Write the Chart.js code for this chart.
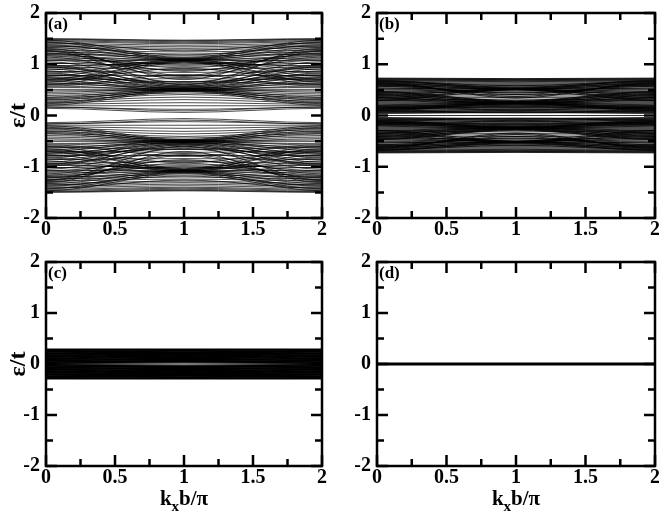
<!DOCTYPE html>
<html>
<head>
<meta charset="utf-8">
<script src="https://cdn.jsdelivr.net/npm/chart.js@4.4.1/dist/chart.umd.min.js"></script>
<style>
    body { margin: 0; background: #fff; }
    .panel { position: absolute; }
</style>
</head>
<body>
<div class="panel" style="left:0;top:0"><canvas id="pa" width="330" height="250"></canvas></div>
<div class="panel" style="left:330px;top:0"><canvas id="pb" width="329" height="250"></canvas></div>
<div class="panel" style="left:0;top:250px"><canvas id="pc" width="330" height="266"></canvas></div>
<div class="panel" style="left:330px;top:250px"><canvas id="pd" width="329" height="266"></canvas></div>
<script>
// ========================== Data ==========================
// each band: energy at kx b/pi = 0 (and 2) and at kx b/pi = 1, upper half (spectrum is symmetric about 0)
const xMajorTicks = [0, 0.5, 1, 1.5, 2];
const xMinorTicks = [0.25, 0.75, 1.25, 1.75];
const yMajorTicks = [-2, -1, 0, 1, 2];
const yMinorTicks = [-1.5, -0.5, 0.5, 1.5];

const bandsA_k0 = [0.14, 0.16, 0.19, 0.22, 0.25, 0.28, 0.31, 0.17,
    0.20, 0.23, 0.26, 0.30, 0.33, 0.36, 0.39, 0.42, 0.45, 0.48, 0.51, 0.35,
    0.55, 0.58, 0.61, 0.64, 0.67, 0.70, 0.73, 0.76, 0.79, 0.83, 0.87, 0.91, 0.95, 0.99,
    0.62, 0.70, 0.78, 0.86, 0.94, 1.02, 1.10, 1.16, 1.22, 1.27, 1.31, 1.05,
    0.60, 0.65, 0.71, 0.77, 0.83, 0.89, 0.95, 1.01, 1.07, 1.12,
    1.17, 1.21, 1.25, 1.29, 1.33, 1.38, 1.43, 1.47,
    1.20, 1.24, 1.28, 1.32, 1.35, 1.38, 1.41, 1.44, 1.46, 1.48, 1.49, 1.50, 1.36, 1.42,
    0.57, 0.68, 0.81, 0.93, 1.08, 1.19, 1.26, 0.74, 1.14, 0.97];
const bandsA_k1 = [0.06, 0.12, 0.19, 0.25, 0.31, 0.36, 0.41, 0.09,
    0.47, 0.50, 0.48, 0.51, 0.49, 0.52, 0.47, 0.50, 0.53, 0.49, 0.51, 0.44,
    0.52, 0.49, 0.54, 0.50, 0.53, 0.48, 0.55, 0.51, 0.56, 0.52, 0.58, 0.55, 0.60, 0.57,
    0.66, 0.72, 0.78, 0.84, 0.90, 0.96, 1.00, 0.93, 0.86, 0.78, 0.70, 0.64,
    1.04, 1.07, 1.05, 1.09, 1.06, 1.08, 1.05, 1.10, 1.07, 1.09,
    1.07, 1.10, 1.08, 1.11, 1.09, 1.12, 1.10, 1.13,
    1.16, 1.20, 1.24, 1.28, 1.31, 1.34, 1.37, 1.40, 1.42, 1.44, 1.46, 1.47, 1.18, 1.26,
    0.80, 0.92, 0.62, 0.74, 0.88, 0.98, 0.60, 0.66, 0.76, 1.02];

const bandsB_k0 = [0.00, 0.05, 0.07, 0.09, 0.11, 0.13, 0.15, 0.08,
    0.04, 0.06, 0.10, 0.12, 0.14, 0.16, 0.18, 0.19,
    0.10, 0.12, 0.13, 0.15, 0.17, 0.18, 0.20, 0.21, 0.23, 0.25,
    0.27, 0.29, 0.30, 0.32, 0.34, 0.35, 0.37, 0.39, 0.41, 0.43, 0.45, 0.47,
    0.30, 0.34, 0.38, 0.42, 0.46, 0.50, 0.54, 0.57, 0.60, 0.62, 0.64,
    0.29, 0.32, 0.35, 0.38, 0.41, 0.44, 0.47, 0.50, 0.53,
    0.56, 0.58, 0.60, 0.62, 0.64, 0.66, 0.68,
    0.58, 0.60, 0.62, 0.64, 0.66, 0.68, 0.69, 0.70, 0.71, 0.72, 0.73, 0.67];
const bandsB_k1 = [0.00, 0.07, 0.09, 0.12, 0.15, 0.18, 0.20, 0.05,
    0.06, 0.10, 0.08, 0.17, 0.11, 0.14, 0.19, 0.16,
    0.23, 0.24, 0.22, 0.25, 0.23, 0.24, 0.22, 0.25, 0.23, 0.24,
    0.25, 0.23, 0.26, 0.24, 0.26, 0.23, 0.27, 0.25, 0.28, 0.26, 0.29, 0.27,
    0.32, 0.35, 0.38, 0.41, 0.44, 0.46, 0.48, 0.44, 0.41, 0.37, 0.34,
    0.50, 0.52, 0.51, 0.53, 0.51, 0.52, 0.50, 0.53, 0.52,
    0.52, 0.53, 0.51, 0.54, 0.52, 0.55, 0.53,
    0.57, 0.59, 0.61, 0.63, 0.65, 0.66, 0.68, 0.69, 0.70, 0.71, 0.72, 0.58];

const bandsC_k0 = [0.012, 0.020, 0.030, 0.042, 0.055, 0.068, 0.080, 0.092, 0.105, 0.118, 0.130, 0.142,
    0.155, 0.168, 0.180, 0.192, 0.205, 0.218, 0.230, 0.242, 0.255, 0.268, 0.280, 0.292,
    0.10, 0.25, 0.15, 0.28];
const bandsC_k1 = [0.022, 0.040, 0.050, 0.062, 0.070, 0.085, 0.095, 0.110, 0.120, 0.130, 0.145, 0.155,
    0.168, 0.180, 0.190, 0.205, 0.215, 0.228, 0.240, 0.250, 0.262, 0.272, 0.283, 0.292,
    0.22, 0.08, 0.27, 0.12];

const bandsD_k0 = [0];
const bandsD_k1 = [0];

// ========================== Helpers ==========================
const serif = '"Liberation Serif", "Times New Roman", serif';
Chart.defaults.font.family = serif;
Chart.defaults.font.weight = 'bold';
Chart.defaults.font.size = 20;
Chart.defaults.color = '#000';

function bandSets(k0, k1, width) {
    const sets = [];
    const add = (a, b) => sets.push({
        data: [{ x: -1, y: b }, { x: 0, y: a }, { x: 1, y: b }, { x: 2, y: a }, { x: 3, y: b }],
        borderColor: '#000',
        borderWidth: width,
        pointRadius: 0,
        cubicInterpolationMode: 'monotone'
    });
    k0.forEach((a, i) => {
        add(a, k1[i]);
        if (a !== 0 || k1[i] !== 0) add(-a, -k1[i]);
    });
    return sets;
}

// frame, inward ticks, panel label and axis titles
const framePlugin = {
    id: 'frame',
    afterDatasetsDraw(chart, args, opts) {
        const { ctx, chartArea: ca, scales: { x, y } } = chart;
        ctx.save();
        ctx.strokeStyle = '#000';
        ctx.lineWidth = 2.5;
        ctx.beginPath();
        const tickX = (v, len) => {
            const px = x.getPixelForValue(v);
            ctx.moveTo(px, ca.bottom); ctx.lineTo(px, ca.bottom - len);
            ctx.moveTo(px, ca.top); ctx.lineTo(px, ca.top + len);
        };
        const tickY = (v, len) => {
            const py = y.getPixelForValue(v);
            ctx.moveTo(ca.left, py); ctx.lineTo(ca.left + len, py);
            ctx.moveTo(ca.right, py); ctx.lineTo(ca.right - len, py);
        };
        xMajorTicks.forEach(v => tickX(v, 11));
        xMinorTicks.forEach(v => tickX(v, 7));
        yMajorTicks.forEach(v => tickY(v, 11));
        yMinorTicks.forEach(v => tickY(v, 7));
        ctx.stroke();
        ctx.strokeRect(ca.left, ca.top, ca.right - ca.left, ca.bottom - ca.top);

        ctx.fillStyle = '#000';
        ctx.font = `bold 17px ${serif}`;
        ctx.textAlign = 'left';
        ctx.textBaseline = 'alphabetic';
        ctx.fillText(opts.label, ca.left + 2, ca.top + 16);

        if (opts.yTitle) {
            ctx.save();
            ctx.translate(19, (ca.top + ca.bottom) / 2);
            ctx.rotate(-Math.PI / 2);
            ctx.font = `bold 24px ${serif}`;
            ctx.textAlign = 'center';
            ctx.textBaseline = 'middle';
            ctx.fillText('ε/t', 0, 0);
            ctx.restore();
        }
        if (opts.xTitle) {
            const big = `bold 21px ${serif}`, small = `bold 15px ${serif}`;
            ctx.font = big;
            const wk = ctx.measureText('k').width, wb = ctx.measureText('b/π').width;
            ctx.font = small;
            const wx = ctx.measureText('x').width;
            let px = (ca.left + ca.right) / 2 - (wk + wx + wb) / 2;
            const base = ca.bottom + 39;
            ctx.font = big; ctx.fillText('k', px, base); px += wk;
            ctx.font = small; ctx.fillText('x', px, base + 6); px += wx;
            ctx.font = big; ctx.fillText('b/π', px, base);
        }
        ctx.restore();
    }
};

function makePanel(id, k0, k1, width, opts) {
    new Chart(document.getElementById(id), {
        type: 'line',
        data: { datasets: bandSets(k0, k1, width) },
        plugins: [framePlugin],
        options: {
            responsive: false,
            animation: false,
            events: [],
            layout: { padding: { top: opts.top, right: opts.right, left: 0, bottom: 0 } },
            plugins: { legend: { display: false }, tooltip: { enabled: false }, frame: opts },
            scales: {
                x: {
                    type: 'linear', min: 0, max: 2,
                    grid: { display: false, drawTicks: false },
                    border: { display: false },
                    ticks: { stepSize: 0.5, padding: 0, maxRotation: 0, autoSkip: false, callback: v => String(v) },
                    afterFit: s => { s.height = opts.xh; s.paddingLeft = 0; s.paddingRight = 0; }
                },
                y: {
                    min: -2, max: 2,
                    grid: { display: false, drawTicks: false },
                    border: { display: false },
                    ticks: { stepSize: 1, padding: 6, callback: v => String(v) },
                    afterFit: s => { s.width = opts.yw; s.paddingTop = 0; s.paddingBottom = 0; }
                }
            }
        }
    });
}

makePanel('pa', bandsA_k0, bandsA_k1, 0.7, { label: '(a)', yTitle: true, xTitle: false, top: 13, right: 8, xh: 32, yw: 46 });
makePanel('pb', bandsB_k0, bandsB_k1, 0.8, { label: '(b)', yTitle: false, xTitle: false, top: 13, right: 4, xh: 32, yw: 47 });
makePanel('pc', bandsC_k0, bandsC_k1, 1.2, { label: '(c)', yTitle: true, xTitle: true, top: 12, right: 8, xh: 50, yw: 46 });
makePanel('pd', bandsD_k0, bandsD_k1, 3, { label: '(d)', yTitle: false, xTitle: true, top: 12, right: 4, xh: 50, yw: 47 });
</script>
</body>
</html>
